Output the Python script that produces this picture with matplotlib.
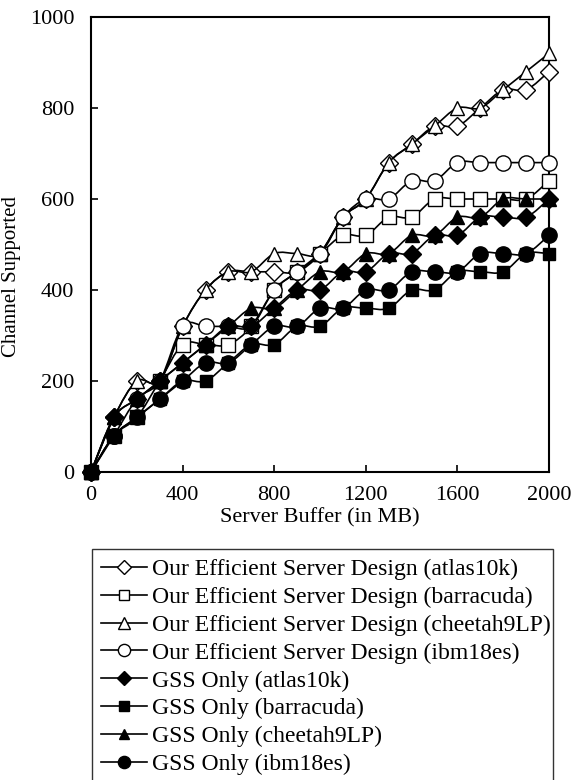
import matplotlib
matplotlib.use("Agg")
import matplotlib.pyplot as plt
from matplotlib.path import Path
from matplotlib.patches import PathPatch
from matplotlib.lines import Line2D

plt.rcParams['font.family'] = ['Liberation Serif', 'DejaVu Serif']

# Server buffer sizes (MB)
buffer_mb = [0, 100, 200, 300, 400, 500, 600, 700, 800, 900, 1000,
             1100, 1200, 1300, 1400, 1500, 1600, 1700, 1800, 1900, 2000]

# Channels supported
eff_atlas10k = [0, 120, 200, 200, 320, 400, 440, 440, 440, 440, 480,
                560, 600, 680, 720, 760, 760, 800, 840, 840, 880]
eff_barracuda = [0, 80, 120, 200, 280, 280, 280, 320, 400, 440, 480,
                 520, 520, 560, 560, 600, 600, 600, 600, 600, 640]
eff_cheetah9lp = [0, 120, 200, 200, 320, 400, 440, 440, 480, 480, 480,
                  560, 600, 680, 720, 760, 800, 800, 840, 880, 920]
eff_ibm18es = [0, 80, 160, 200, 320, 320, 320, 320, 400, 440, 480,
               560, 600, 600, 640, 640, 680, 680, 680, 680, 680]
gss_atlas10k = [0, 120, 160, 200, 240, 280, 320, 320, 360, 400, 400,
                440, 440, 480, 480, 520, 520, 560, 560, 560, 600]
gss_barracuda = [0, 80, 120, 160, 200, 200, 240, 280, 280, 320, 320,
                 360, 360, 360, 400, 400, 440, 440, 440, 480, 480]
gss_cheetah9lp = [0, 120, 160, 200, 240, 280, 320, 360, 360, 400, 440,
                  440, 480, 480, 520, 520, 560, 560, 600, 600, 600]
gss_ibm18es = [0, 80, 120, 160, 200, 240, 240, 280, 320, 320, 360,
               360, 400, 400, 440, 440, 440, 480, 480, 480, 520]

labels = ['Our Efficient Server Design (atlas10k)',
          'Our Efficient Server Design (barracuda)',
          'Our Efficient Server Design (cheetah9LP)',
          'Our Efficient Server Design (ibm18es)',
          'GSS Only (atlas10k)',
          'GSS Only (barracuda)',
          'GSS Only (cheetah9LP)',
          'GSS Only (ibm18es)']
series = [eff_atlas10k, eff_barracuda, eff_cheetah9lp, eff_ibm18es,
          gss_atlas10k, gss_barracuda, gss_cheetah9lp, gss_ibm18es]
markers = ['D', 's', '^', 'o', 'D', 's', '^', 'o']
msizes = [9, 9.5, 10.5, 11, 9, 8.5, 9.5, 11]
filled = [False] * 4 + [True] * 4


def smooth_path(xs, ys):
    # Excel-like smoothed line: Catmull-Rom segments as cubic Bezier curves
    pts = list(zip(xs, ys))
    verts = [pts[0]]
    codes = [Path.MOVETO]
    n = len(pts)
    for i in range(n - 1):
        p0 = pts[i - 1] if i > 0 else pts[i]
        p1 = pts[i]
        p2 = pts[i + 1]
        p3 = pts[i + 2] if i + 2 < n else pts[i + 1]
        c1 = (p1[0] + (p2[0] - p0[0]) / 6, p1[1] + (p2[1] - p0[1]) / 6)
        c2 = (p2[0] - (p3[0] - p1[0]) / 6, p2[1] - (p3[1] - p1[1]) / 6)
        verts += [c1, c2, p2]
        codes += [Path.CURVE4] * 3
    return Path(verts, codes)


fig = plt.figure(figsize=(5.74, 7.8), dpi=100)
ax = fig.add_axes([91 / 574, 1 - 472 / 780, 458 / 574, 455 / 780])

handles = []
for k, (vals, mk, ms, fl) in enumerate(zip(series, markers, msizes, filled)):
    z = 3 + k
    face = 'black' if fl else 'white'
    ax.add_patch(PathPatch(smooth_path(buffer_mb, vals), fill=False,
                           edgecolor='black', lw=1.2, zorder=z))
    ax.plot(buffer_mb, vals, linestyle='none', marker=mk, markersize=ms,
            markerfacecolor=face, markeredgecolor='black',
            markeredgewidth=1.0, zorder=z, clip_on=False)
    handles.append(Line2D([], [], color='black', lw=1.2, marker=mk,
                          markersize=ms * 0.8, markerfacecolor=face,
                          markeredgecolor='black', markeredgewidth=1.0))

ax.set_xlim(0, 2000)
ax.set_ylim(0, 1000)
ax.set_xticks(range(0, 2001, 400))
ax.set_yticks(range(0, 1001, 200))
ax.tick_params(direction='in', length=5, width=1.2, labelsize=16)
ax.tick_params(axis='y', pad=12)
ax.tick_params(axis='x', pad=10)
for s in ax.spines.values():
    s.set_linewidth(1.5)

ax.set_xlabel('Server Buffer (in MB)', fontsize=16, labelpad=2)
ax.set_ylabel('Channel Supported', fontsize=15)
ax.yaxis.set_label_coords(-0.153, 0.43)

leg = fig.legend(handles, labels, loc='upper left',
                 bbox_to_anchor=(92 / 574, 1 - 549 / 780, 461 / 574, 0),
                 mode='expand', fontsize=17, frameon=True, fancybox=False,
                 handlelength=1.95, handletextpad=0.2, labelspacing=0.27,
                 borderpad=0.4, borderaxespad=0)
leg.get_frame().set_edgecolor('black')
leg.get_frame().set_linewidth(1.0)

fig.savefig('out.png', dpi=100)
